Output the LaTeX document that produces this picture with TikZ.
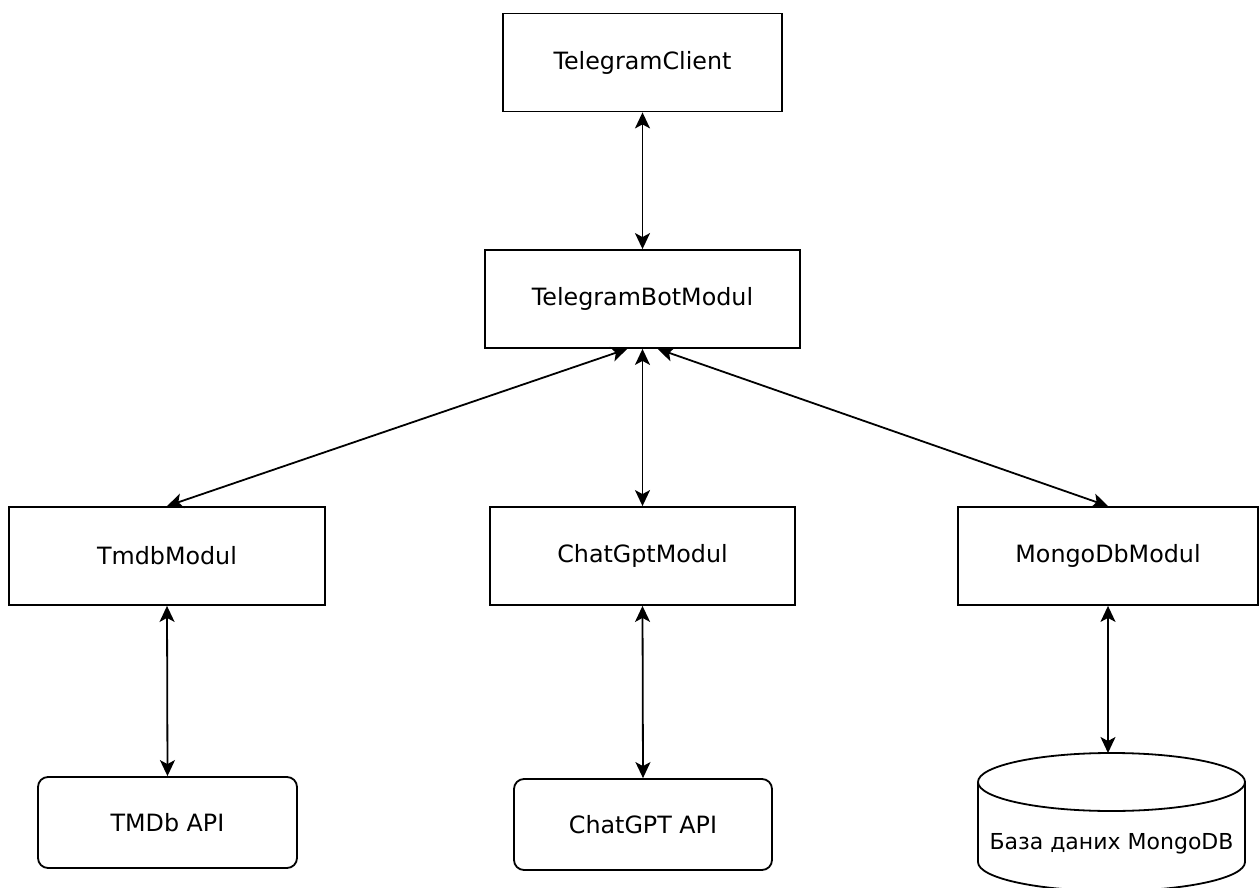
\documentclass[tikz,border=0pt]{standalone}
\usepackage{fontspec}
\setmainfont{DejaVu Sans}
\usepackage{tikz}
\usetikzlibrary{arrows.meta}

\begin{document}
\begin{tikzpicture}[x=0.5pt,y=-0.5pt,
  modbox/.style={draw, line width=0.9pt, minimum height=49pt, inner sep=0pt, font=\fontsize{11.9}{14}\selectfont},
  apibox/.style={modbox, rounded corners=5pt, minimum height=45.5pt},
  link/.style={draw, line width=0.9pt, {Stealth[length=8pt,width=7.5pt,inset=2pt]}-{Stealth[length=8pt,width=7.5pt,inset=2pt]}}]
\useasboundingbox (0,0) rectangle (1259,888);

\path (642.5,62.5) node[modbox, minimum width=139.5pt] (client) {TelegramClient};
\path (642.5,299) node[modbox, minimum width=157.5pt] (bot) {TelegramBotModul};

\path (167,556) node[modbox, minimum width=158pt] (tmdb) {TmdbModul};
\path (642.5,556) node[modbox, minimum width=152.5pt] (chat) {ChatGptModul};
\path (1108,556) node[modbox, minimum width=150pt] (mongo) {MongoDbModul};

\path (167.5,822.5) node[apibox, minimum width=129.5pt] (tmdbapi) {TMDb API};
\path (643,824.5) node[apibox, minimum width=129pt] (chatapi) {ChatGPT API};

% database cylinder
\path[draw, line width=0.9pt] (1111.5,782) ellipse [x radius=133.5, y radius=29];
\path[draw, line width=0.9pt] (978,782) -- (978,862) arc [start angle=180, end angle=0, x radius=133.5, y radius=29] -- (1245,782);
\coordinate (db) at (1111.5,753);
\path (1111.5,844) node[font=\fontsize{11}{13}\selectfont] (dbtext) {База даних MongoDB};

% links
\path[link] (client.south) -- (bot.north);
\path[link] (bot.-107) -- (tmdb.north);
\path[link] (bot.south) -- (chat.north);
\path[link] (bot.-73) -- (mongo.north);

\path[link] (tmdb.south) -- (tmdbapi.north);
\path[link] (chat.south) -- (chatapi.north);
\path[link] (mongo.south) -- (mongo.south |- db);
\end{tikzpicture}
\end{document}
